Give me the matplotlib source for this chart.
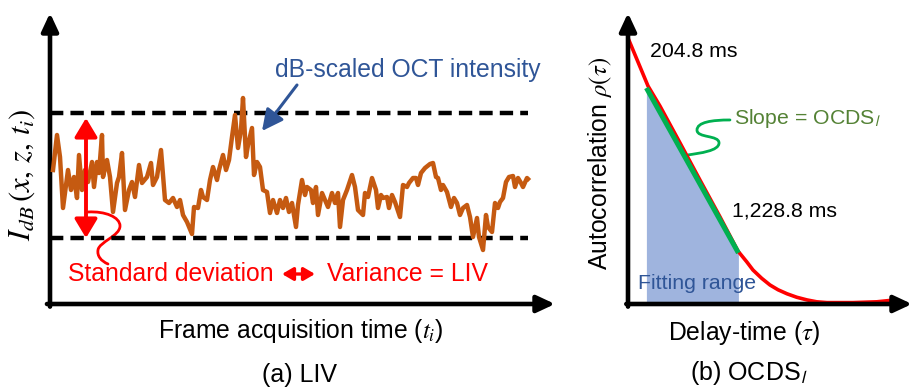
import matplotlib
matplotlib.use('Agg')
import matplotlib.pyplot as plt
from matplotlib.path import Path
from matplotlib.patches import PathPatch

plt.rcParams['font.family'] = ['Liberation Sans', 'DejaVu Sans']
plt.rcParams['mathtext.fontset'] = 'stix'

# (a) LIV: dB-scaled OCT intensity over frames (arbitrary units)
frame = [3, 7, 10, 13, 18, 21, 24, 27, 29, 32, 35, 38, 42, 44, 47, 49, 52, 53, 57, 60,
         63, 67, 69, 72, 75, 79, 82, 85, 89, 92, 97, 101, 103, 107, 111, 115, 119, 123, 127, 130,
         133, 137, 142, 144, 148, 151, 153, 157, 160, 163, 167, 169, 173, 176, 179, 182, 185, 188, 191, 193,
         196, 198, 202, 204, 207, 210, 213, 217, 220, 223, 227, 230, 233, 236, 239, 242, 246, 248, 252, 255,
         257, 261, 263, 266, 268, 272, 275, 278, 282, 285, 288, 290, 293, 297, 302, 305, 308, 313, 315, 318,
         322, 326, 328, 331, 333, 337, 339, 342, 345, 347, 350, 353, 357, 359, 363, 366, 368, 371, 375, 380,
         383, 386, 388, 391, 393, 397, 401, 404, 407, 410, 413, 417, 420, 423, 427, 429, 433, 436, 438, 442,
         445, 448, 450, 453, 456, 459, 463, 465, 468, 471, 473, 477, 478]
intensity = [135, 170, 148, 97, 135, 115, 128, 107, 150, 115, 135, 123, 143, 118, 143, 132, 170, 128, 145, 128,
             93, 122, 128, 152, 95, 115, 123, 108, 140, 122, 128, 142, 120, 128, 155, 105, 102, 107, 98, 105,
             90, 83, 71, 98, 97, 115, 108, 105, 125, 138, 125, 135, 150, 135, 145, 168, 190, 157, 175, 207,
             148, 160, 177, 130, 143, 138, 115, 113, 92, 105, 92, 105, 97, 107, 93, 102, 78, 100, 125, 110,
             118, 115, 102, 118, 90, 112, 105, 98, 112, 102, 112, 78, 105, 115, 130, 118, 95, 90, 112, 108,
             127, 115, 97, 110, 107, 108, 97, 110, 103, 97, 88, 120, 118, 122, 127, 127, 120, 132, 137, 141,
             142, 128, 127, 115, 120, 113, 98, 107, 102, 90, 97, 100, 88, 68, 87, 68, 55, 90, 78, 73,
             102, 97, 103, 107, 123, 128, 129, 118, 127, 122, 118, 127, 126]
band_top = 192
band_bottom = 67
band_end = 478

# (b) OCDS_l: autocorrelation vs delay time
tau_ms = [0, 223, 356, 579, 801, 1024, 1224, 1321, 1391, 1488, 1580, 1670, 1770, 1878,
          1992, 2100, 2215, 2504, 2771, 2972]
rho = [1.0, 0.82, 0.745, 0.607, 0.468, 0.33, 0.202, 0.162, 0.131, 0.10, 0.075, 0.057, 0.042, 0.029,
       0.019, 0.012, 0.009, 0.009, 0.012, 0.019]
fit_tau = [204.8, 1228.8]
fit_rho = [0.813, 0.195]

RED = '#FF0000'
ORANGE = '#C55A11'
BLUE = '#2F5597'
GREEN_LINE = '#00B050'
GREEN_TEXT = '#548235'
FILL = '#9FB4DE'
FS_A = 17.8
FS_B = 15.3
FS_LABEL = 17.8


def axis_arrows(ax):
    style = '-|>,head_length=0.6,head_width=0.28'
    kw = dict(arrowstyle=style, lw=3.3, color='black', mutation_scale=18,
              shrinkA=0, shrinkB=0)
    ax.annotate('', xy=(0, 1), xytext=(0, -0.009), xycoords='axes fraction',
                textcoords='axes fraction', arrowprops=kw, annotation_clip=False)
    ax.annotate('', xy=(1, 0), xytext=(-0.006, 0), xycoords='axes fraction',
                textcoords='axes fraction', arrowprops=kw, annotation_clip=False)
    for s in ax.spines.values():
        s.set_visible(False)
    ax.set_xticks([])
    ax.set_yticks([])
    ax.patch.set_alpha(0)


def squiggle(ax, verts, color, lw):
    codes = [Path.MOVETO] + [Path.CURVE4] * (len(verts) - 1)
    ax.add_patch(PathPatch(Path(verts, codes), fill=False, edgecolor=color,
                           lw=lw, capstyle='round', clip_on=False))


fig = plt.figure(figsize=(9.12, 3.91), dpi=100)

# ---------- panel (a)
ax1 = fig.add_axes([50 / 912, 87 / 391, 505 / 912, 291 / 391])
ax1.set_xlim(0, 505)
ax1.set_ylim(1, 292)
axis_arrows(ax1)

for yv in (band_top, band_bottom):
    ax1.plot([0, band_end], [yv, yv], color='black', lw=3.2, dashes=(3, 1.6), zorder=2)
ax1.plot(frame, intensity, color=ORANGE, lw=3.2, solid_joinstyle='round', zorder=3)

ax1.annotate('', xy=(36, band_top - 5), xytext=(36, band_bottom),
             arrowprops=dict(arrowstyle='<|-|>,head_length=0.6,head_width=0.36',
                             color=RED, lw=2.8, mutation_scale=19, shrinkA=0, shrinkB=0),
             zorder=4)
squiggle(ax1, [(38, 93), (55, 94), (70, 88), (70, 79), (70, 69), (49, 63), (48, 55),
               (47, 49), (51, 44), (58, 41)], RED, 2)

ax1.text(225, 235, 'dB-scaled OCT intensity', color=BLUE, fontsize=FS_A, va='center', ha='left')
ax1.annotate('', xy=(212, 174), xytext=(247, 220),
             arrowprops=dict(arrowstyle='-|>,head_length=0.8,head_width=0.4', color=BLUE,
                             lw=2.2, mutation_scale=16, shrinkA=0, shrinkB=0))
ax1.text(18, 31, 'Standard deviation', color=RED, fontsize=FS_A, va='center', ha='left')
ax1.annotate('', xy=(265, 31), xytext=(232, 31),
             arrowprops=dict(arrowstyle='<|-|>,head_length=0.6,head_width=0.35', color=RED,
                             lw=2.4, mutation_scale=11, shrinkA=0, shrinkB=0))
ax1.text(277, 31, 'Variance = LIV', color=RED, fontsize=FS_A, va='center', ha='left')

fig.text(22 / 912, 1 - 175 / 391, r'$I_{dB}\,(x,\,z,\,t_i)$', rotation=90,
         fontsize=22, ha='center', va='center')
fig.text(301 / 912, 1 - 331 / 391, r'Frame acquisition time ($t_i$)', fontsize=FS_LABEL,
         ha='center', va='center')
fig.text(300 / 912, 1 - 375 / 391, '(a) LIV', fontsize=18, ha='center', va='center')

# ---------- panel (b)
ax2 = fig.add_axes([628 / 912, 87 / 391, 284 / 912, 291 / 391])
ax2.set_xlim(0, 284 * 11.13)
ax2.set_ylim(1 / 267, 292 / 267)
axis_arrows(ax2)

ax2.fill_between(fit_tau, 0, fit_rho, color=FILL, lw=0, zorder=1)
ax2.plot(tau_ms, rho, color=RED, lw=2.6, zorder=2, solid_capstyle='butt')
ax2.plot(fit_tau, fit_rho, color=GREEN_LINE, lw=3.6, zorder=3, solid_capstyle='butt')
squiggle(ax2, [(1135, 0.693), (935, 0.693), (768, 0.685), (768, 0.655),
               (768, 0.625), (1013, 0.637), (1013, 0.607),
               (1013, 0.577), (801, 0.569), (668, 0.562)], GREEN_LINE, 2)

ax2.text(245, 0.948, '204.8 ms', fontsize=FS_B, va='center', ha='left')
ax2.text(1180, 0.697, r'Slope = OCDS$_\mathsf{l}$', color=GREEN_TEXT, fontsize=FS_B,
         va='center', ha='left')
ax2.text(1158, 0.352, '1,228.8 ms', fontsize=FS_B, va='center', ha='left')
ax2.text(111, 0.082, 'Fitting range', color=BLUE, fontsize=FS_B, va='center', ha='left')

fig.text(600 / 912, 1 - 163 / 391, r'Autocorrelation $\rho(\tau)$', rotation=90,
         fontsize=FS_LABEL, ha='center', va='center')
fig.text(744 / 912, 1 - 333 / 391, r'Delay-time ($\tau$)', fontsize=FS_LABEL,
         ha='center', va='center')
fig.text(749 / 912, 1 - 373 / 391, r'(b) OCDS$_\mathsf{l}$', fontsize=18,
         ha='center', va='center')

fig.savefig('out.png', dpi=100)
